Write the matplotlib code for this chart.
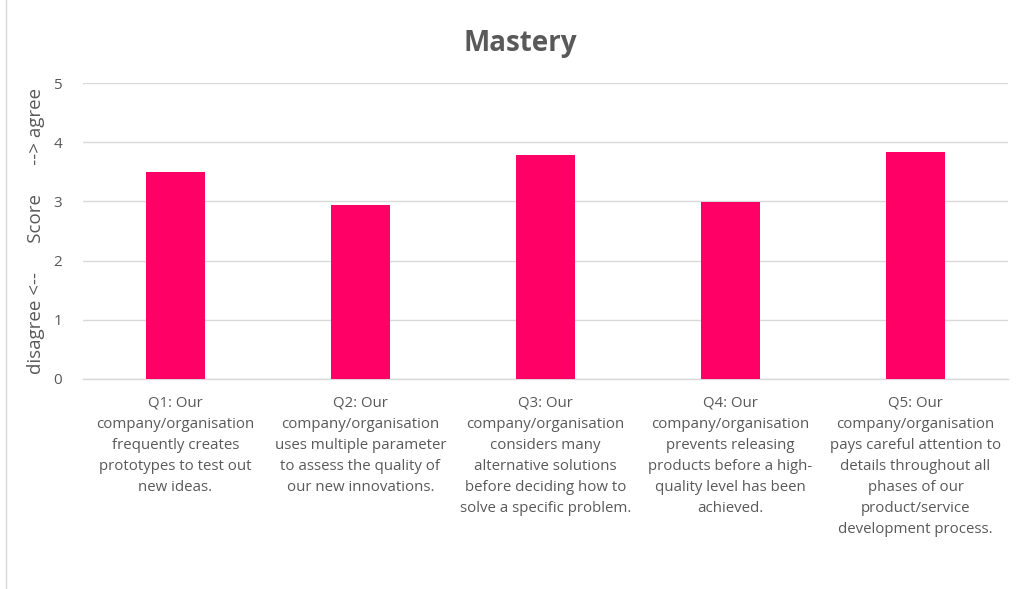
import matplotlib
matplotlib.use("Agg")
import matplotlib.pyplot as plt
from matplotlib.lines import Line2D

categories = [
    "Q1: Our\ncompany/organisation\nfrequently creates\nprototypes to test out\nnew ideas.",
    "Q2: Our\ncompany/organisation\nuses multiple parameter\nto assess the quality of\nour new innovations.",
    "Q3: Our\ncompany/organisation\nconsiders many\nalternative solutions\nbefore deciding how to\nsolve a specific problem.",
    "Q4: Our\ncompany/organisation\nprevents releasing\nproducts before a high-\nquality level has been\nachieved.",
    "Q5: Our\ncompany/organisation\npays careful attention to\ndetails throughout all\nphases of our\nproduct/service\ndevelopment process.",
]
scores = [3.50, 2.94, 3.78, 2.99, 3.83]
y_ticks = [0, 1, 2, 3, 4, 5]

text_color = "#595959"
bar_color = "#FF0066"
grid_color = "#D9D9D9"

plt.rcParams['font.family'] = ['Open Sans', 'DejaVu Sans']

fig = plt.figure(figsize=(10.33, 5.89), dpi=100)
ax = fig.add_axes([83/1033, 210/589, 925/1033, 296/589])

x = list(range(len(categories)))
ax.bar(x, scores, width=0.32, color=bar_color, zorder=3)

ax.set_xlim(-0.5, len(categories) - 0.5)
ax.set_ylim(0, 5)
ax.set_yticks(y_ticks)
ax.set_yticklabels([str(t) for t in y_ticks], fontsize=11, color=text_color)
ax.set_xticks(x)
ax.set_xticklabels(categories, fontsize=10.8, color=text_color, linespacing=1.55, va="top")
ax.tick_params(axis="both", length=0)
ax.tick_params(axis="x", pad=12)
ax.tick_params(axis="y", pad=15)
ax.grid(axis="y", color=grid_color, linewidth=1, zorder=0)
for s in ["top", "right", "left"]:
    ax.spines[s].set_visible(False)
ax.spines["bottom"].set_color(grid_color)
ax.spines["bottom"].set_linewidth(1)

ax.set_ylabel("disagree <--      Score      --> agree", fontsize=13.5, color=text_color, labelpad=6)
fig.text(520/1033, 1 - 44/589, "Mastery", fontsize=20, fontweight="bold", color=text_color,
         ha="center", va="center")

fig.add_artist(Line2D([6/1033, 6/1033], [0, 1], transform=fig.transFigure, color=grid_color, linewidth=1))

fig.savefig("out.png", dpi=100)
